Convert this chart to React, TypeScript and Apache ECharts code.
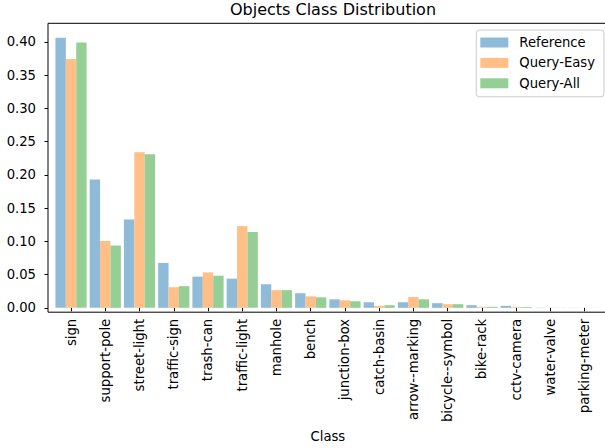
import React, { useEffect, useRef } from "react";
import * as echarts from "echarts";

const categories = [
  "sign", "support-pole", "street-light", "traffic-sign", "trash-can", "traffic-light",
  "manhole", "bench", "junction-box", "catch-basin", "arrow--marking", "bicycle--symbol",
  "bike-rack", "cctv-camera", "water-valve", "parking-meter",
];
const referenceValues = [0.406, 0.193, 0.133, 0.0676, 0.0469, 0.0439, 0.0355, 0.022, 0.0128, 0.0084, 0.0084, 0.007, 0.004, 0.003, 0.0003, 0.0002];
const queryEasyValues = [0.374, 0.1006, 0.2338, 0.0311, 0.0533, 0.1228, 0.0266, 0.0173, 0.0114, 0.003, 0.0163, 0.0055, 0.0015, 0.0012, 0.0002, 0.0001];
const queryAllValues = [0.399, 0.0937, 0.2308, 0.0326, 0.0483, 0.1139, 0.0266, 0.0158, 0.0099, 0.004, 0.0128, 0.0055, 0.0015, 0.0012, 0.0002, 0.0001];
const yTicks = [0, 0.05, 0.1, 0.15, 0.2, 0.25, 0.3, 0.35, 0.4];
const seriesNames = ["Reference", "Query-Easy", "Query-All"];

const FONT = "DejaVu Sans";
const FS = 13.2;

export default function App() {
  const ref = useRef<HTMLDivElement>(null);
  useEffect(() => {
    if (!ref.current) return;
    const chart = echarts.init(ref.current, null, { renderer: "svg" });
    const colors = ["#8fbbd9", "#ffbf86", "#95cf95"];
    const data = [referenceValues, queryEasyValues, queryAllValues];
    chart.setOption({
      animation: false,
      textStyle: { fontFamily: FONT },
      title: {
        text: "Objects Class Distribution",
        left: 333,
        textAlign: "center",
        top: 1,
        padding: 0,
        textStyle: { fontFamily: FONT, fontSize: 16, fontWeight: "normal", color: "#000" },
      },
      legend: {
        orient: "vertical",
        right: 1,
        top: 30,
        itemWidth: 28,
        itemHeight: 10,
        itemGap: 5.4,
        padding: [5, 9, 6, 4],
        borderColor: "#cccccc",
        borderWidth: 1,
        borderRadius: 3,
        backgroundColor: "rgba(255,255,255,0.8)",
        icon: "rect",
        data: seriesNames,
        textStyle: { fontFamily: FONT, fontSize: FS, color: "#000", lineHeight: 15, padding: [0, 0, 0, 6] },
      },
      grid: { left: 53.9, right: 3.2, top: 23.3, bottom: 135.8, containLabel: false },
      xAxis: {
        type: "category",
        data: categories,
        name: "Class",
        nameLocation: "middle",
        nameGap: 121,
        nameTextStyle: { fontFamily: FONT, fontSize: FS, color: "#000" },
        axisLine: { show: false },
        axisTick: { show: true, alignWithLabel: true, length: 3.5, lineStyle: { color: "#000", width: 1 } },
        axisLabel: { rotate: 90, margin: 11, fontFamily: FONT, fontSize: FS, color: "#000", interval: 0 },
        splitLine: { show: false },
      },
      yAxis: {
        type: "value",
        min: 0,
        max: 0.4278,
        offset: 5.9,
        axisLine: { show: false },
        axisTick: { show: true, length: 3.5, lineStyle: { color: "#000", width: 1 }, customValues: yTicks },
        axisLabel: {
          margin: 12,
          fontFamily: FONT,
          fontSize: FS,
          color: "#000",
          customValues: yTicks,
          formatter: (v: number) => v.toFixed(2),
        },
        splitLine: { show: false },
      },
      graphic: [
        {
          type: "polyline",
          shape: { points: [[605, 23.3], [48, 23.3], [48, 312.2], [605, 312.2]] },
          style: { stroke: "#000", lineWidth: 1, fill: "none" },
          silent: true,
          z: 10,
        },
      ],
      series: seriesNames.map((n, i) => ({
        name: n,
        type: "bar",
        data: data[i],
        barWidth: 10.4,
        barGap: "0%",
        itemStyle: { color: colors[i] },
      })),
    });
    return () => chart.dispose();
  }, []);
  return <div ref={ref} style={{ width: 605, height: 448, position: "absolute", left: 0, top: 0 }} />;
}
